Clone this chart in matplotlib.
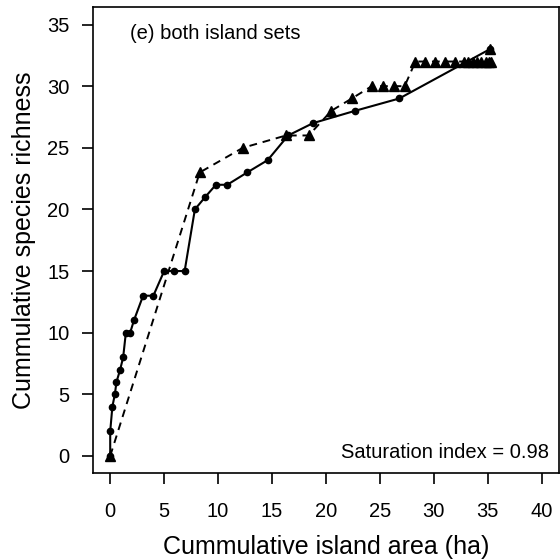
import numpy as np
import matplotlib.pyplot as plt

plt.rcParams['font.family'] = ['Liberation Sans', 'DejaVu Sans']

# curva acumulada (linha cheia, pontos)
area_cheia = [0, 0, 0.2, 0.43, 0.58, 0.92, 1.2, 1.45, 1.85, 2.2, 3.05, 4.0, 5.0, 5.9, 6.9,
              7.85, 8.8, 9.8, 10.85, 12.7, 14.6, 16.5, 18.8, 22.7, 26.8, 35.2]
riqueza_cheia = [0, 2, 4, 5, 6, 7, 8, 10, 10, 11, 13, 13, 15, 15, 15,
                 20, 21, 22, 22, 23, 24, 26, 27, 28, 29, 33]

# curva acumulada (linha tracejada, triângulos)
area_trac = [0, 8.3, 12.3, 16.3, 18.4, 20.5, 22.4, 24.25, 25.25, 26.3, 27.3,
             28.3, 29.2, 30.1, 31.05, 32.0, 32.8, 33.2, 33.6, 34.0, 34.4, 34.8, 35.1, 35.3, 35.2]
riqueza_trac = [0, 23, 25, 26, 26, 28, 29, 30, 30, 30, 30,
                32, 32, 32, 32, 32, 32, 32, 32, 32, 32, 32, 32, 32, 33]

xticks = np.arange(0, 41, 5)
yticks = np.arange(0, 36, 5)

fig = plt.figure(figsize=(5.6, 5.6), dpi=100)
ax = fig.add_axes([0.166, 0.155, 0.832, 0.832])

ax.plot(area_trac, riqueza_trac, color='black', linestyle=(0, (4, 3)), linewidth=1.4,
        marker='^', markersize=7, zorder=2)
ax.plot(area_cheia, riqueza_cheia, color='black', linestyle='-', linewidth=1.5,
        marker='o', markersize=4.5, zorder=3)

ax.set_xlim(-1.6, 41.6)
ax.set_ylim(-1.4, 36.4)
ax.set_xticks(xticks)
ax.set_yticks(yticks)
ax.tick_params(axis='both', direction='out', length=8, width=1.2, labelsize=14.5)
ax.tick_params(axis='x', pad=13)
ax.tick_params(axis='y', pad=9)
for s in ax.spines.values():
    s.set_linewidth(1.2)

ax.set_xlabel('Cummulative island area (ha)', fontsize=18, labelpad=10)
ax.set_ylabel('Cummulative species richness', fontsize=18, labelpad=8)

ax.text(1.8, 33.8, '(e) both island sets', fontsize=14.5, ha='left', va='baseline')
ax.text(40.7, -0.15, 'Saturation index = 0.98', fontsize=14.5, ha='right', va='baseline')

fig.savefig('out.png', dpi=100)
